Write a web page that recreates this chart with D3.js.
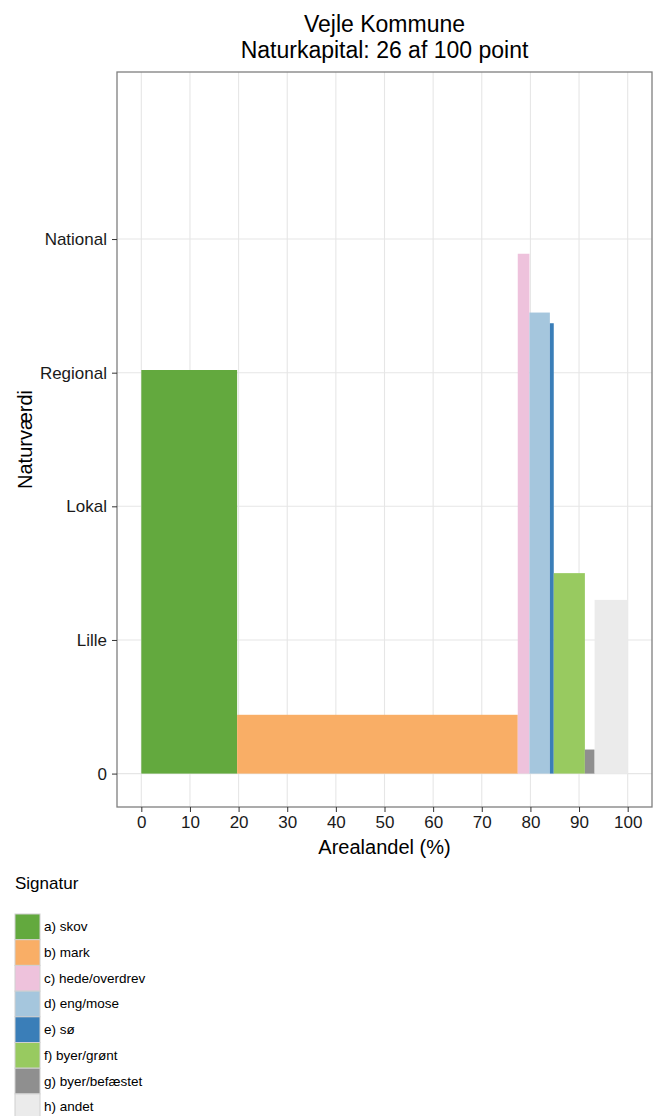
<!DOCTYPE html>
<html>
<head>
<meta charset="utf-8">
<script src="https://cdn.jsdelivr.net/npm/d3@7"></script>
<style>
body { margin: 0; background: #fff; }
text { font-family: "Liberation Sans", Arial, Helvetica, sans-serif; }
</style>
</head>
<body>
<svg id="chart"></svg>
<script>
// data
const categories = ["a) skov", "b) mark", "c) hede/overdrev", "d) eng/mose", "e) sø", "f) byer/grønt", "g) byer/befæstet", "h) andet"];
const shares = [19.7, 57.7, 2.4, 4.2, 0.8, 6.4, 2.0, 6.8];   // arealandel (%)
const values = [3.02, 0.44, 3.89, 3.45, 3.37, 1.50, 0.18, 1.30]; // naturværdi
const colors = ["#63a93e", "#f9ae66", "#eec2dc", "#a5c6dd", "#3a7eb8", "#98ca60", "#8f8f8f", "#ebebeb"];
const yTicks = [0, 1, 2, 3, 4];
const yLabels = ["0", "Lille", "Lokal", "Regional", "National"];
const xTicks = [0, 10, 20, 30, 40, 50, 60, 70, 80, 90, 100];

const W = 654, H = 1116;
const panel = {left: 117, right: 652, top: 72, bottom: 807};

const svg = d3.select("#chart")
  .attr("width", W)
  .attr("height", H);

const x = d3.scaleLinear().domain([-5, 105]).range([panel.left, panel.right]);
const y = d3.scaleLinear().domain([-0.25, 5.25]).range([panel.bottom, panel.top]);

// cumulative positions of the rectangles
let acc = 0;
const rects = categories.map((c, i) => {
  const r = {name: c, x0: acc, x1: acc + shares[i], v: values[i], color: colors[i]};
  acc += shares[i];
  return r;
});

// panel background + grid
svg.append("rect")
  .attr("x", panel.left).attr("y", panel.top)
  .attr("width", panel.right - panel.left).attr("height", panel.bottom - panel.top)
  .style("fill", "#fff");

svg.append("g").selectAll("line")
  .data(xTicks).enter().append("line")
  .attr("x1", d => x(d)).attr("x2", d => x(d))
  .attr("y1", panel.top).attr("y2", panel.bottom)
  .style("stroke", "#e6e6e6").style("stroke-width", 1.1);

svg.append("g").selectAll("line")
  .data(yTicks).enter().append("line")
  .attr("x1", panel.left).attr("x2", panel.right)
  .attr("y1", d => y(d)).attr("y2", d => y(d))
  .style("stroke", "#e6e6e6").style("stroke-width", 1.1);

// bars
svg.append("g").selectAll("rect")
  .data(rects).enter().append("rect")
  .attr("x", d => x(d.x0))
  .attr("width", d => x(d.x1) - x(d.x0))
  .attr("y", d => y(d.v))
  .attr("height", d => y(0) - y(d.v))
  .style("fill", d => d.color);

// panel border
svg.append("rect")
  .attr("x", panel.left).attr("y", panel.top)
  .attr("width", panel.right - panel.left).attr("height", panel.bottom - panel.top)
  .style("fill", "none").style("stroke", "#7f7f7f").style("stroke-width", 1.3);

// axes
const xAxis = d3.axisBottom(x).tickValues(xTicks).tickSize(5).tickPadding(4);
const gx = svg.append("g")
  .attr("transform", "translate(0," + panel.bottom + ")")
  .call(xAxis);
gx.select(".domain").remove();
gx.selectAll("line").style("stroke", "#333");
gx.selectAll("text").style("font-size", "17px").style("fill", "#1a1a1a");

const yAxis = d3.axisLeft(y).tickValues(yTicks).tickFormat((d, i) => yLabels[i]).tickSize(5).tickPadding(5);
const gy = svg.append("g")
  .attr("transform", "translate(" + panel.left + ",0)")
  .call(yAxis);
gy.select(".domain").remove();
gy.selectAll("line").style("stroke", "#333");
gy.selectAll("text").style("font-size", "17px").style("fill", "#1a1a1a");

// titles
const cx = (panel.left + panel.right) / 2;
svg.append("text")
  .attr("x", cx).attr("y", 31.5)
  .attr("text-anchor", "middle")
  .style("font-size", "23px")
  .text("Vejle Kommune");
svg.append("text")
  .attr("x", cx).attr("y", 58)
  .attr("text-anchor", "middle")
  .style("font-size", "23px")
  .text("Naturkapital: 26 af 100 point");

svg.append("text")
  .attr("x", cx).attr("y", 853.5)
  .attr("text-anchor", "middle")
  .style("font-size", "20px")
  .text("Arealandel (%)");

svg.append("text")
  .attr("transform", "translate(32," + ((panel.top + panel.bottom) / 2) + ") rotate(-90)")
  .attr("text-anchor", "middle")
  .style("font-size", "20px")
  .text("Naturværdi");

// legend
const legend = svg.append("g");
legend.append("text")
  .attr("x", 15).attr("y", 889)
  .style("font-size", "17px")
  .text("Signatur");

const keyH = 25.7;
const keys = legend.selectAll("g.key")
  .data(rects).enter().append("g")
  .attr("class", "key")
  .attr("transform", (d, i) => "translate(15," + (914 + i * keyH) + ")");
keys.append("rect")
  .attr("width", 25).attr("height", keyH)
  .style("fill", d => d.color)
  .style("stroke", "#d0d0d0").style("stroke-width", 1);
keys.append("text")
  .attr("x", 29).attr("y", keyH / 2)
  .attr("dominant-baseline", "central")
  .style("font-size", "13.5px")
  .text(d => d.name);
</script>
</body>
</html>
